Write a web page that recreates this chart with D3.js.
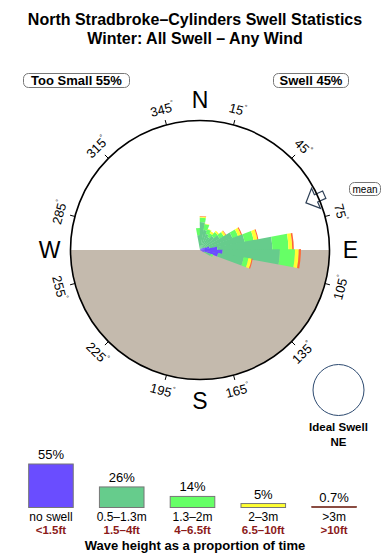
<!DOCTYPE html>
<html><head><meta charset="utf-8">
<script src="https://cdn.jsdelivr.net/npm/d3@7"></script>
<style>body{margin:0;background:#fff}svg{display:block}text{font-family:"Liberation Sans",Arial,Helvetica,sans-serif}</style>
</head><body>
<script>
// ---- data ----
const titleLines = ["North Stradbroke\u2013Cylinders Swell Statistics", "Winter: All Swell \u2013 Any Wind"];
const directions = [355, 5, 15, 25, 35, 45, 55, 65, 75, 85, 95, 105, 115];
const noSwell = [0, 0, 0, 0, 0, 0.2, 0.3, 0.5, 0.9, 1.6, 2.1, 1.7, 0.4];
const h05to13 = [1.4, 2.6, 1.9, 1.6, 1.4, 1.5, 1.8, 2.7, 3.3, 5.1, 5.3, 2.4, 0.7];
const h13to2 = [0.65, 0.4, 0.55, 0.45, 0.4, 0.45, 0.45, 0.55, 0.85, 1.5, 1.4, 0.45, 0.2];
const h2to3 = [0, 0.1, 0.05, 0.05, 0.2, 0.15, 0.2, 0.3, 0.35, 0.35, 0.35, 0.3, 0];
const h3plus = [0, 0.05, 0, 0, 0, 0, 0.05, 0.1, 0.1, 0.15, 0.2, 0.1, 0];
const meanDirection = 66;
const tooSmallPct = 55, swellPct = 45;
const legendPct = [55, 26, 14, 5, 0.7];
const legendMetres = ["no swell", "0.5\u20131.3m", "1.3\u20132m", "2\u20133m", ">3m"];
const legendFeet = ["<1.5ft", "1.5\u20134ft", "4\u20136.5ft", "6.5\u201310ft", ">10ft"];
const tickAngles = [15, 45, 75, 105, 135, 165, 195, 225, 255, 285, 315, 345];
const cardinals = [["N", 0], ["E", 90], ["S", 180], ["W", 270]];
const idealSwell = "NE";

// ---- styles ----
const colors = ["#6a4dff", "#66cc8c", "#66ff66", "#ffff33", "#ff6633"];
const legendColors = ["#6a4dff", "#66cc8c", "#66ff66", "#ffff33", "#993322"];
const W = 390, H = 560, cx = 200, cy = 250, R = 129.5;

const svg = d3.select("body").append("svg").attr("width", W).attr("height", H);

// titles
svg.selectAll("text.title").data(titleLines).join("text")
  .attr("x", 195).attr("y", (d, i) => 25 + i * 18.5)
  .attr("text-anchor", "middle").attr("font-size", 16).attr("font-weight", "bold").text(d => d);

// top boxes
function pill(x, y, w, h, txt, fs, weight) {
  svg.append("rect").attr("x", x).attr("y", y).attr("width", w).attr("height", h).attr("rx", 5)
    .attr("fill", "#fff").attr("stroke", "#777").attr("stroke-width", 1);
  svg.append("text").attr("x", x + w / 2).attr("y", y + h / 2).attr("dy", "0.36em")
    .attr("text-anchor", "middle").attr("font-size", fs).attr("font-weight", weight).text(txt);
}
pill(23.5, 73.5, 106, 14, `Too Small ${tooSmallPct}%`, 13, "bold");
pill(273.5, 73.5, 75, 14, `Swell ${swellPct}%`, 13, "bold");
pill(349.5, 182.5, 31, 13, "mean", 10, "normal");

const g = svg.append("g").attr("transform", `translate(${cx},${cy})`);
const rad = Math.PI / 180;

// land (lower half of circle)
svg.append("defs").append("clipPath").attr("id", "cc").append("circle").attr("r", R);
g.append("rect").attr("x", -R).attr("y", 0).attr("width", 2 * R).attr("height", R)
  .attr("fill", "#c4baad").attr("clip-path", "url(#cc)");

// rose
const r = d3.scaleLinear().domain([0, 12]).range([0, R]);
const series = [noSwell, h05to13, h13to2, h2to3, h3plus];
const arc = d3.arc();
directions.forEach((dir, i) => {
  let cum = 0;
  series.forEach((s, k) => {
    const v = s[i];
    if (v <= 0) return;
    g.append("path").attr("d", arc({
      innerRadius: r(cum), outerRadius: r(cum + v),
      startAngle: (dir - 5.5) * rad, endAngle: (dir + 5.5) * rad
    })).attr("fill", colors[k]);
    cum += v;
  });
});

// mean arrow
function pt(rr, t, a) {
  const s = Math.sin(a * rad), c = Math.cos(a * rad);
  return [rr * s + t * c, -rr * c + t * s];
}
const arrowLocal = [[116, 0], [127, -11], [127, -4], [136, -4], [136, 4], [127, 4], [127, 11]];
g.append("polygon").attr("points", arrowLocal.map(p => pt(p[0], p[1], meanDirection).join(",")).join(" "))
  .attr("fill", "#fff").attr("stroke", "#2d3f55").attr("stroke-width", 1.2);

// circle
g.append("circle").attr("r", R).attr("fill", "none").attr("stroke", "#000").attr("stroke-width", 1.6);

// ticks and labels
tickAngles.forEach(a => {
  const p1 = pt(R, 0, a), p2 = pt(R + 5, 0, a);
  g.append("line").attr("x1", p1[0]).attr("y1", p1[1]).attr("x2", p2[0]).attr("y2", p2[1])
    .attr("stroke", "#000").attr("stroke-width", 1);
  const p = pt(R + 16, 0, a);
  const rot = (a <= 90) ? a : (a >= 270 ? a - 360 : a - 180);
  const t = g.append("text").attr("transform", `translate(${p[0]},${p[1]}) rotate(${rot})`)
    .attr("text-anchor", "middle").attr("dy", "0.35em").attr("font-size", 13);
  t.append("tspan").text(a);
  t.append("tspan").attr("font-size", 7).attr("dy", "-0.9em").text("\u00b0");
});
cardinals.forEach(([lab, a]) => {
  const p = pt(R + 21, 0, a);
  g.append("text").attr("x", p[0]).attr("y", p[1]).attr("dy", "0.36em")
    .attr("text-anchor", "middle").attr("font-size", 23).text(lab);
});

// ideal swell
svg.append("circle").attr("cx", 338.5).attr("cy", 390).attr("r", 25.5)
  .attr("fill", "#fff").attr("stroke", "#2d4a70").attr("stroke-width", 1);
svg.append("text").attr("x", 338.5).attr("y", 431).attr("text-anchor", "middle")
  .attr("font-size", 11.5).attr("font-weight", "bold").text("Ideal Swell");
svg.append("text").attr("x", 338.5).attr("y", 446).attr("text-anchor", "middle")
  .attr("font-size", 11.5).attr("font-weight", "bold").text(idealSwell);

// legend
const lx = d3.scaleBand().domain(d3.range(legendPct.length)).range([14.5, 370.5]).paddingInner(0.37).paddingOuter(0.2);
const lh = d3.scaleLinear().domain([0, 55]).range([0, 43.5]);
const base = 507.5;
const lg = svg.append("g");
legendPct.forEach((v, i) => {
  const x = lx(i), w = lx.bandwidth(), h = Math.max(lh(v), 1);
  lg.append("rect").attr("x", x).attr("y", base - h).attr("width", w).attr("height", h)
    .attr("fill", legendColors[i]).attr("stroke", i === 4 ? "#7a3a30" : "#777").attr("stroke-width", i === 4 ? 0.8 : 1);
  lg.append("text").attr("x", x + w / 2).attr("y", base - h - 5).attr("text-anchor", "middle")
    .attr("font-size", 13).text(v + "%");
  lg.append("text").attr("x", x + w / 2).attr("y", 520.5).attr("text-anchor", "middle")
    .attr("font-size", 12).text(legendMetres[i]);
  lg.append("text").attr("x", x + w / 2).attr("y", 534).attr("text-anchor", "middle")
    .attr("font-size", 11.5).attr("font-weight", "bold").attr("fill", "#8b1a1a").text(legendFeet[i]);
});
svg.append("text").attr("x", 195).attr("y", 550).attr("text-anchor", "middle")
  .attr("font-size", 13).attr("font-weight", "bold").text("Wave height as a proportion of time");
</script>
</body></html>
